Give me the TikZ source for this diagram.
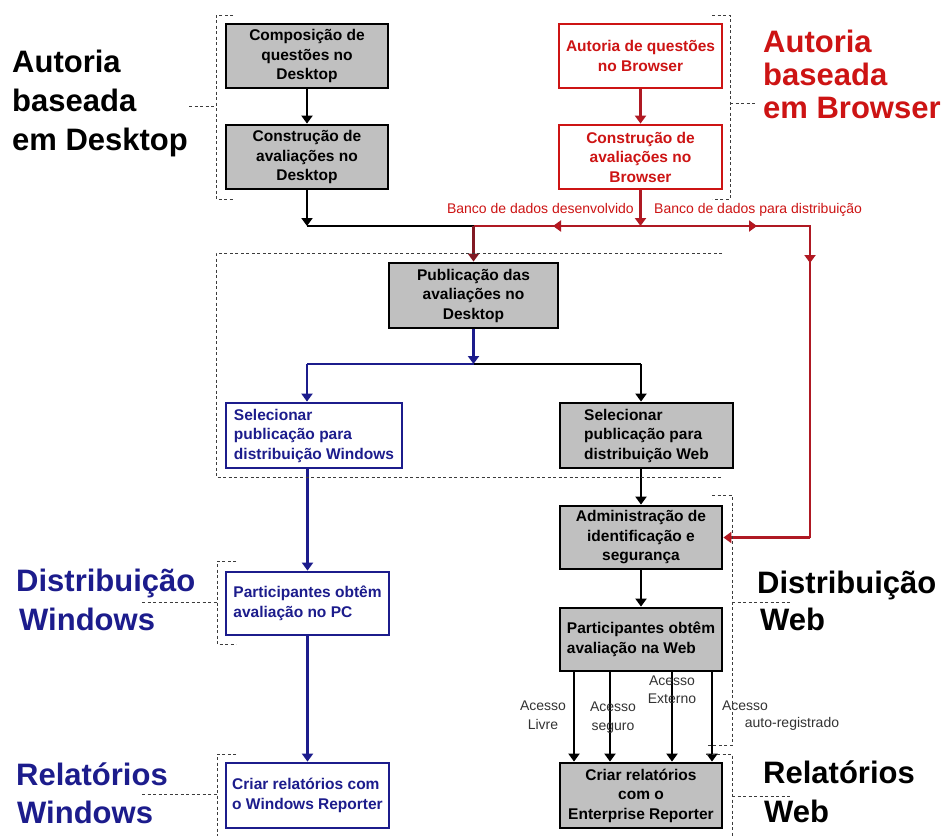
\documentclass[tikz,border=0pt]{standalone}
\usepackage{fontspec}
\setmainfont{Liberation Sans}
\usetikzlibrary{arrows.meta}

\definecolor{boxgray}{RGB}{192,192,192}
\definecolor{navyc}{RGB}{28,28,140}
\definecolor{redc}{RGB}{205,20,20}
\definecolor{redline}{RGB}{175,25,35}
\definecolor{maroonc}{RGB}{130,25,35}
\definecolor{dashc}{RGB}{60,60,60}

\newcommand\bxfont{\fontsize{15.5}{19.5}\selectfont\bfseries}
\newcommand\bigfont{\fontsize{31}{38}\selectfont\bfseries}
\newcommand\smallfont{\fontsize{14}{18.5}\selectfont}

\begin{document}
\begin{tikzpicture}[x=1pt,y=-1pt,
  box/.style={draw, line width=2.8pt, inner xsep=3pt, inner ysep=0pt, font=\bxfont},
  graybox/.style={box, fill=boxgray, text=black},
  redbox/.style={box, draw=redc, fill=white, text=redc},
  navybox/.style={box, draw=navyc, fill=white, text=navyc},
  tip/.style={-{Triangle[width=11pt,length=8pt]}},
  conn/.style={line width=2.3pt},
  blackarr/.style={conn, tip, draw=black},
  redarr/.style={conn, draw=redline, -{Triangle[width=11pt,length=8pt,fill=redc]}},
  navyarr/.style={conn, tip, draw=navyc},
  bracket/.style={draw=dashc, line width=0.9pt, dash pattern=on 3pt off 2.5pt},
  biglbl/.style={anchor=base west, inner sep=0pt, font=\bigfont},
  smalllbl/.style={inner sep=0pt, font=\smallfont, align=center}
]
\useasboundingbox[fill=white] (0,0) rectangle (941,836);

% ---- authoring boxes
\node[graybox, minimum width=162pt, minimum height=64pt, align=center] (b1) at (307,56) {Composição de\\questões no\\Desktop};
\node[graybox, minimum width=162pt, minimum height=64pt, align=center] (b2) at (307,157) {Construção de\\avaliações no\\Desktop};
\node[redbox, minimum width=163pt, minimum height=64pt, align=center] (r1) at (640.5,56) {Autoria de questões\\no Browser};
\node[redbox, minimum width=163pt, minimum height=64pt, align=center] (r2) at (640.5,157) {Construção de\\avaliações no\\Browser};

% ---- publication
\node[graybox, minimum width=169pt, minimum height=65pt, align=center] (pub) at (473.5,295.5) {Publicação das\\avaliações no\\Desktop};
\node[navybox, minimum width=176pt, minimum height=65pt, align=left] (sw) at (314,435.5) {Selecionar\\publicação para\\distribuição Windows};
\node[graybox, minimum width=173pt, minimum height=65pt, align=left] (sweb) at (646.5,435.5) {Selecionar\\publicação para\\distribuição Web};

% ---- web column
\node[graybox, minimum width=162pt, minimum height=63pt, align=center] (adm) at (641,537.5) {Administração de\\identificação e\\segurança};
\node[graybox, minimum width=162pt, minimum height=63pt, align=left] (pw) at (641,639.5) {Participantes obtêm\\avaliação na Web};
\node[graybox, minimum width=162pt, minimum height=65pt, align=center] (cw) at (641,795.5) {Criar relatórios\\com o\\Enterprise Reporter};

% ---- windows column
\node[navybox, minimum width=163pt, minimum height=63pt, align=left] (ppc) at (307.5,603.5) {Participantes obtêm\\avaliação no PC};
\node[navybox, minimum width=163pt, minimum height=65pt, align=left] (cwin) at (307.5,795.5) {Criar relatórios com\\o Windows Reporter};

% ---- junction points
\coordinate (j1) at (307,226);
\coordinate (j2) at (473.5,226);
\coordinate (j3) at (640.5,226);
\coordinate (j4) at (810,226);
\coordinate (j5) at (810,537.5);
\coordinate (ml) at (553,226);
\coordinate (mr) at (757,226);
\coordinate (md) at (810,263);
\coordinate (k1) at (473.5,364);
\coordinate (k2) at (307,364);
\coordinate (k3) at (641,364);
\coordinate (a1) at (574,700);
\coordinate (a2) at (610,700);
\coordinate (a3) at (672,700);
\coordinate (a4) at (712,700);

% ---- connectors
\draw[blackarr] (b1.south) -- (b2.north);
\draw[blackarr] (b2.south) -- (j1);
\draw[conn] (j1) -- (j2);
\draw[redarr] (r1.south) -- (r2.north);
\draw[conn, draw=redline] (j2) -- (j4) -- (j5);
\draw[redarr] (j5) -- (adm.east);
\draw[redarr] (j3) -- (ml);
\draw[redarr] (j3) -- (mr);
\draw[redarr] (j4) -- (md);
\draw[redarr] (r2.south) -- (j3);
\draw[conn, draw=maroonc, -{Triangle[width=11pt,length=8pt]}] (j2) -- (pub.north);

\draw[navyarr] (pub.south) -- (k1);
\draw[conn, draw=navyc] (k1) -- (k2);
\draw[navyarr] (k2) -- (k2 |- sw.north);
\draw[conn] (k1) -- (k3);
\draw[blackarr] (k3) -- (k3 |- sweb.north);

\draw[navyarr] (ppc.north |- sw.south) -- (ppc.north);
\draw[navyarr] (ppc.south) -- (cwin.north);

\draw[blackarr] (adm.north |- sweb.south) -- (adm.north);
\draw[blackarr] (adm.south) -- (pw.north);
\draw[blackarr] (a1 |- pw.south) -- (a1 |- cw.north);
\draw[blackarr] (a2 |- pw.south) -- (a2 |- cw.north);
\draw[blackarr] (a3 |- pw.south) -- (a3 |- cw.north);
\draw[blackarr] (a4 |- pw.south) -- (a4 |- cw.north);

% ---- connector labels
\node[smalllbl, text=redc, anchor=base east] (l1) at (634,213) {Banco de dados desenvolvido};
\node[smalllbl, text=redc, anchor=base west] (l2) at (654,213) {Banco de dados para distribuição};
\node[smalllbl, text=black!80] (l3) at (543,715) {Acesso\\Livre};
\node[smalllbl, text=black!80] (l4) at (613,717.5) {Acesso\\seguro};
\node[smalllbl, text=black!80] (l5) at (672,689.5) {Acesso\\Externo};
\node[smalllbl, text=black!80] (l6) at (745,706) {Acesso};
\node[smalllbl, text=black!80] (l7) at (792,724) {auto-registrado};

% ---- dashed group brackets
\draw[bracket] (233,15) -- (216,15) -- (216,199) -- (233,199);
\draw[bracket] (189,106) -- (216,106);
\draw[bracket] (712,15) -- (730,15) -- (730,199) -- (712,199);
\draw[bracket] (730,103) -- (755,103);
\draw[bracket] (722,253) -- (216,253) -- (216,477) -- (722,477);
\draw[bracket] (236,561) -- (217,561) -- (217,644) -- (236,644);
\draw[bracket] (142,602) -- (217,602);
\draw[bracket] (236,754) -- (217,754) -- (217,836);
\draw[bracket] (142,794) -- (217,794);
\draw[bracket] (712,495) -- (732,495) -- (732,745) -- (706,745);
\draw[bracket] (732,602) -- (792,602);
\draw[bracket] (706,754) -- (732,754) -- (732,836);
\draw[bracket] (732,796) -- (792,796);

% ---- section titles
\node[biglbl] (t1) at (12,72) {Autoria};
\node[biglbl] (t2) at (12,111) {baseada};
\node[biglbl] (t3) at (12,150) {em Desktop};
\node[biglbl, text=redc] (t4) at (763,52) {Autoria};
\node[biglbl, text=redc] (t5) at (763,85) {baseada};
\node[biglbl, text=redc] (t6) at (763,118) {em Browser};
\node[biglbl, text=navyc] (t7) at (16,591) {Distribuição};
\node[biglbl, text=navyc] (t8) at (19,630) {Windows};
\node[biglbl, text=navyc] (t9) at (16,785) {Relatórios};
\node[biglbl, text=navyc] (t10) at (17,823) {Windows};
\node[biglbl] (t11) at (757,593) {Distribuição};
\node[biglbl] (t12) at (760,630) {Web};
\node[biglbl] (t13) at (763,783) {Relatórios};
\node[biglbl] (t14) at (764,822) {Web};
\end{tikzpicture}
\end{document}
